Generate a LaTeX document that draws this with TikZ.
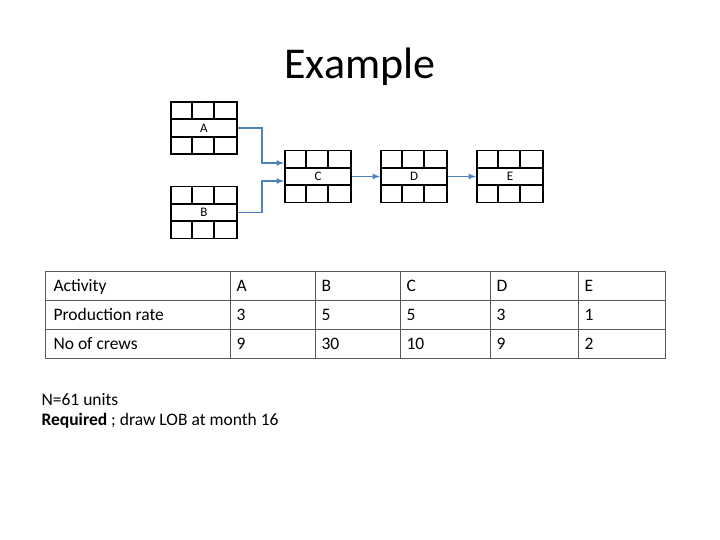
\documentclass[tikz,border=0pt]{standalone}
\usepackage{fontspec}
\setmainfont{Carlito}
\usetikzlibrary{positioning}
\definecolor{steel}{RGB}{79,129,189}
\tikzset{
  act/.style={draw, line width=1.8pt, minimum width=66pt, minimum height=52pt, inner sep=0pt, font=\fontsize{13}{14}\selectfont},
  link/.style={draw=steel, line width=1.6pt, -latex},
  cell/.style={anchor=west, text height=12pt, text depth=4pt, font=\fontsize{17.5}{19}\selectfont}
}
% box with three rows, upper and lower rows split in three
\newcommand{\actbox}[3]{
  \node[act] (#1) at (#2,#3) {#1};
  \draw[line width=1.8pt] (#1.west) ++(0,8.7) -- ++(66,0)
               (#1.west) ++(0,-8.7) -- ++(66,0);
  \foreach \k in {22,44}{
    \draw[line width=1.8pt] (#1.north west) ++(\k,0) -- ++(0,17.3)
                 (#1.south west) ++(\k,0) -- ++(0,-17.3);
  }
}
\begin{document}
\begin{tikzpicture}[x=1pt,y=-1pt]
  \useasboundingbox (0,0) rectangle (720,540);
  \node at (360,67) {\fontsize{44}{48}\selectfont Example};

  \actbox{A}{204}{128}
  \actbox{B}{204}{212.5}
  \actbox{C}{318}{176.5}
  \actbox{D}{414}{176.5}
  \actbox{E}{510}{176.5}

  \draw[link] (A.east) -- ++(24,0) |- ([yshift=13.5pt]C.west);
  \draw[link] (B.east) -- ++(24,0) |- ([yshift=-4.5pt]C.west);
  \draw[link] (C.east) -- (D.west);
  \draw[link] (D.east) -- (E.west);

  % table
  \draw[thick, gray!70!black] (45,271) rectangle (665,358);
  \foreach \y in {300,329}
    \draw[thick, gray!70!black] (45,\y) -- (665,\y);
  \foreach \x in {230,315,400,490,578}
    \draw[thick, gray!70!black] (\x,271) -- (\x,358);
  \node[cell] (r1) at (50,287) {Activity};
  \node[cell] (r2) at (50,316) {Production rate};
  \node[cell] (r3) at (50,345) {No of crews};
  \foreach \x/\a/\b/\c in {233/A/3/9, 318/B/5/30, 403/C/5/10, 493/D/3/9, 581/E/1/2}{
    \node[cell] at (\x,287) {\a};
    \node[cell] at (\x,316) {\b};
    \node[cell] at (\x,345) {\c};
  }

  \node[cell] (n) at (38,401) {N=61 units};
  \node[cell] (req) at (38,421) {\textbf{Required} ; draw LOB at month 16};
\end{tikzpicture}
\end{document}
